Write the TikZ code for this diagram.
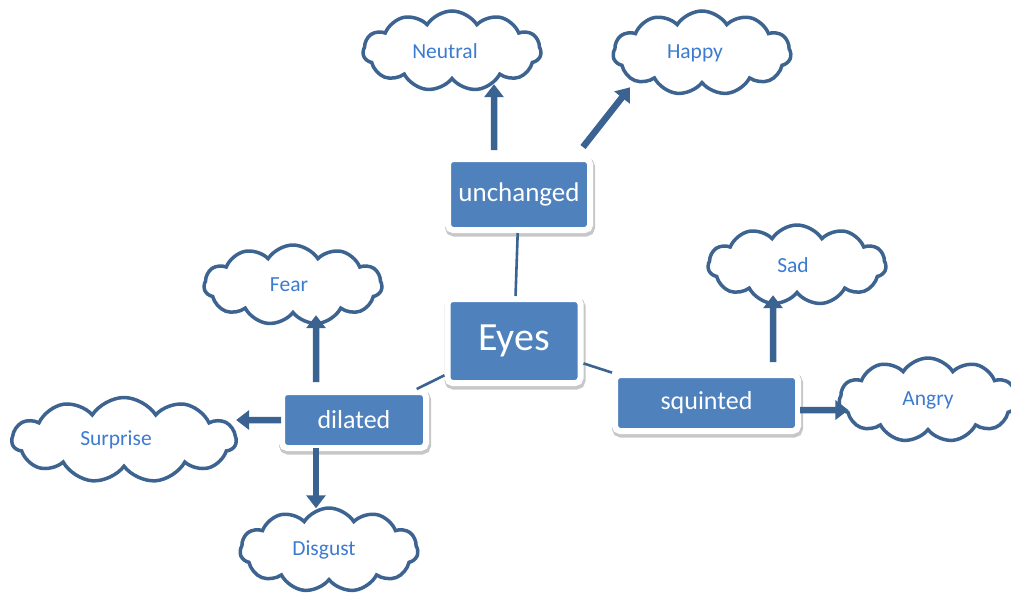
\documentclass[tikz,border=0pt]{standalone}
\usepackage{fontspec}
\setmainfont{Carlito}
\usetikzlibrary{shapes.symbols,arrows.meta,shadows}
\definecolor{boxblue}{HTML}{4F81BD}
\definecolor{cloudline}{HTML}{3D6490}
\definecolor{arrowc}{HTML}{3B6392}
\definecolor{cloudtext}{HTML}{3C7BD0}
\tikzset{
  box/.style={rectangle, rounded corners=5pt, fill=boxblue, draw=white, line width=6pt,
    text=white, inner sep=0pt,
    drop shadow={shadow xshift=1pt, shadow yshift=-2.5pt, opacity=0.22, fill=black,
      draw=black, line width=8pt}},
  cloudnode/.style={cloud, cloud puffs=11, cloud puff arc=115, aspect=2.2, draw=cloudline,
    line width=3.5pt, fill=white, inner sep=0pt, text=cloudtext, font=\fontsize{21.5}{23}\selectfont,
    minimum width=178pt, minimum height=80pt},
  conn/.style={draw=arrowc, line width=2.6pt},
  arr/.style={draw=arrowc, line width=6.5pt, -{Triangle[length=13pt,width=19pt]}},
}
\begin{document}
\begin{tikzpicture}[x=1pt,y=-1pt]
\fill[white] (0,0) rectangle (1011,592);
\useasboundingbox (0,0) rectangle (1011,592);
% clouds
\node[cloudnode] (neutral) at (452,51) {Neutral\hspace*{14pt}};
\node[cloudnode, minimum height=84pt] (happy) at (702,53) {Happy\hspace*{14pt}};
\node[cloudnode] (fear) at (293,285) {Fear\hspace*{8pt}};
\node[cloudnode] (sad) at (797,265) {Sad\hspace*{8pt}};
\node[cloudnode, minimum height=84pt] (angry) at (928,400) {Angry};
\node[cloudnode, minimum width=224pt, minimum height=85pt] (surprise) at (124,440) {Surprise\hspace*{16pt}};
\node[cloudnode, minimum height=84pt] (disgust) at (329,550) {Disgust\hspace*{10pt}};
% boxes
\node[box, minimum width=133pt, minimum height=84pt, font=\fontsize{40}{44}\selectfont] (eyes) at (514,341) {Eyes};
\node[box, minimum width=142pt, minimum height=71pt, font=\fontsize{27}{30}\selectfont] (unch) at (519,194.5) {unchanged};
\node[box, minimum width=144pt, minimum height=56pt, font=\fontsize{26}{29}\selectfont] (dil) at (354,420) {dilated};
\node[box, minimum width=183pt, minimum height=56pt, font=\fontsize{26}{29}\selectfont] (sq) at (706.5,403) {squinted};
% connectors
\draw[conn] (unch) -- (eyes);
\draw[conn] (eyes) -- (dil);
\draw[conn] (eyes) -- (sq);
% arrows
\draw[arr] ([xshift=-25pt,yshift=6pt]unch.north) -- ([xshift=42pt,yshift=-3pt]neutral.south);
\draw[arr] ([xshift=-10pt,yshift=9pt]unch.north east) -- ([xshift=-72pt,yshift=-2pt]happy.south);
\draw[arr] ([xshift=66.5pt,yshift=10pt]sq.north) -- ([xshift=-24pt]sad.south);
\draw[arr] ([xshift=-1pt,yshift=-7pt]sq.east) -- ([xshift=11pt,yshift=-10pt]angry.west);
\draw[arr] ([xshift=-38pt,yshift=7pt]dil.north) -- ([xshift=23pt]fear.south);
\draw[arr] ([xshift=2pt]dil.west) -- ([xshift=-2pt,yshift=20pt]surprise.east);
\draw[arr] ([xshift=-38pt,yshift=3pt]dil.south) -- ([xshift=-13pt,yshift=-2pt]disgust.north);
\end{tikzpicture}
\end{document}
